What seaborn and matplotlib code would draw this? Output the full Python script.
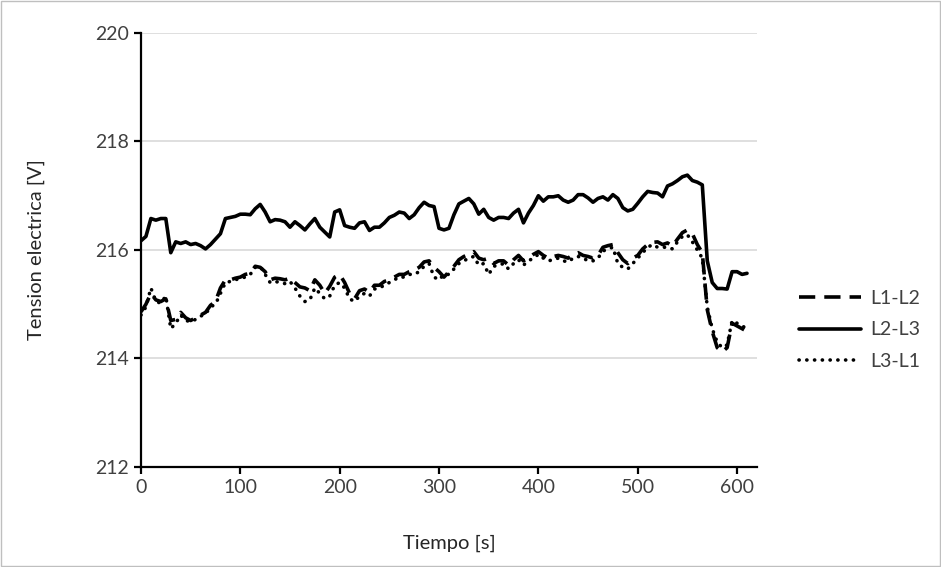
import numpy as np
import pandas as pd
import matplotlib
matplotlib.use('Agg')
import matplotlib.pyplot as plt
import seaborn as sns
from matplotlib.lines import Line2D
from matplotlib.patches import Rectangle

# datos (cada 5 s)
tiempo = list(range(0, 611, 5))

l2_l3 = [216.17, 216.25, 216.58, 216.55, 216.58, 216.58, 215.95, 216.15, 216.12, 216.15,
         216.10, 216.12, 216.08, 216.02, 216.10, 216.20, 216.30, 216.58, 216.60, 216.62,
         216.66, 216.66, 216.65, 216.76, 216.84, 216.70, 216.52, 216.56, 216.55, 216.52,
         216.42, 216.52, 216.45, 216.37, 216.48, 216.58, 216.42, 216.33, 216.24, 216.70,
         216.74, 216.45, 216.42, 216.40, 216.50, 216.52, 216.36, 216.42, 216.42, 216.50,
         216.60, 216.64, 216.70, 216.68, 216.58, 216.65, 216.78, 216.88, 216.82, 216.80,
         216.40, 216.37, 216.40, 216.65, 216.85, 216.90, 216.95, 216.85, 216.66, 216.75,
         216.60, 216.55, 216.60, 216.60, 216.58, 216.68, 216.75, 216.50, 216.68, 216.82,
         217.00, 216.90, 216.98, 216.98, 217.00, 216.92, 216.88, 216.92, 217.02, 217.02,
         216.96, 216.88, 216.95, 216.98, 216.92, 217.02, 216.95, 216.78, 216.72, 216.75,
         216.86, 216.98, 217.08, 217.06, 217.05, 216.98, 217.18, 217.22, 217.28, 217.35,
         217.38, 217.28, 217.25, 217.20, 215.80, 215.40, 215.29, 215.29, 215.28, 215.60,
         215.60, 215.55, 215.57]

l1_l2 = [214.86, 215.00, 215.20, 215.08, 215.05, 215.10, 214.70, 214.72, 214.85, 214.75,
         214.70, 214.75, 214.80, 214.85, 214.98, 215.05, 215.30, 215.45, 215.45, 215.48,
         215.50, 215.55, 215.57, 215.70, 215.68, 215.60, 215.45, 215.48, 215.47, 215.45,
         215.48, 215.40, 215.32, 215.30, 215.25, 215.45, 215.35, 215.20, 215.33, 215.50,
         215.55, 215.40, 215.20, 215.10, 215.25, 215.28, 215.22, 215.35, 215.35, 215.42,
         215.45, 215.50, 215.55, 215.55, 215.60, 215.63, 215.68, 215.78, 215.80, 215.68,
         215.60, 215.50, 215.60, 215.70, 215.82, 215.88, 215.92, 215.97, 215.85, 215.82,
         215.85, 215.75, 215.80, 215.80, 215.72, 215.82, 215.90, 215.80, 215.85, 215.92,
         215.97, 215.90, 215.85, 215.88, 215.90, 215.88, 215.85, 215.92, 215.95, 215.90,
         215.88, 215.85, 215.90, 216.05, 216.08, 216.10, 215.95, 215.82, 215.75, 215.85,
         215.90, 216.02, 216.10, 216.14, 216.15, 216.10, 216.13, 216.07, 216.20, 216.32,
         216.37, 216.30, 216.10, 215.95, 214.90, 214.50, 214.20, 214.12, 214.20, 214.65,
         214.60, 214.55, 214.50]

l3_l1 = [214.80, 214.95, 215.30, 215.05, 215.02, 215.15, 214.55, 214.65, 214.80, 214.70,
         214.68, 214.72, 214.78, 214.82, 214.95, 215.00, 215.20, 215.40, 215.42, 215.45,
         215.48, 215.50, 215.55, 215.68, 215.70, 215.55, 215.40, 215.42, 215.40, 215.38,
         215.42, 215.30, 215.15, 215.05, 215.08, 215.30, 215.20, 215.10, 215.15, 215.35,
         215.40, 215.30, 215.10, 215.05, 215.15, 215.20, 215.15, 215.28, 215.30, 215.35,
         215.40, 215.45, 215.50, 215.50, 215.55, 215.55, 215.60, 215.70, 215.75, 215.50,
         215.45, 215.55, 215.55, 215.65, 215.75, 215.80, 215.85, 215.88, 215.72, 215.75,
         215.55, 215.70, 215.72, 215.75, 215.65, 215.75, 215.82, 215.72, 215.80, 215.85,
         215.92, 215.85, 215.80, 215.82, 215.85, 215.80, 215.78, 215.85, 215.88, 215.85,
         215.80, 215.80, 215.85, 215.98, 216.02, 216.05, 215.75, 215.68, 215.65, 215.75,
         215.85, 215.95, 216.05, 216.10, 216.05, 216.05, 216.05, 216.02, 216.15, 216.25,
         216.28, 216.15, 216.00, 215.85, 214.95, 214.55, 214.30, 214.20, 214.25, 214.70,
         214.65, 214.60, 214.55]

series = ['L1-L2', 'L2-L3', 'L3-L1']
valores = [l1_l2, l2_l3, l3_l1]
estilos = {'L1-L2': (0, (4.5, 2.5)), 'L2-L3': '-', 'L3-L1': (0, (0.05, 2.1))}

sns.set_style('white')
plt.rcParams['font.family'] = ['Lato', 'DejaVu Sans']

fig = plt.figure(figsize=(9.41, 5.67), dpi=100)
ax = fig.add_axes([0.1498, 0.1764, 0.6546, 0.7654])

for nombre, vals in zip(series, valores):
    df = pd.DataFrame({'Tiempo': tiempo, 'V': vals})
    sns.lineplot(data=df, x='Tiempo', y='V', ax=ax, color='black', lw=2.6,
                 linestyle=estilos[nombre])
    ax.lines[-1].set_dash_capstyle('round' if nombre == 'L3-L1' else 'butt')

ax.set_xlim(0, 620)
ax.set_ylim(212, 220)
ax.set_xticks(range(0, 601, 100))
ax.set_yticks(range(212, 221, 2))
ax.yaxis.grid(True, color='#d9d9d9', lw=1.2)
ax.set_axisbelow(True)
for s in ['top', 'right']:
    ax.spines[s].set_visible(False)
for s in ['left', 'bottom']:
    ax.spines[s].set_color('black')
    ax.spines[s].set_linewidth(1.6)
ax.tick_params(axis='both', which='both', direction='out', length=5, width=1.6,
               colors='black', labelsize=14, left=True, bottom=True, labelcolor='#404040')
ax.set_xlabel('Tiempo [s]', fontsize=14.5, color='#262626', labelpad=28)
ax.set_ylabel('Tension electrica [V]', fontsize=14.5, color='#262626', labelpad=36)

handles = [Line2D([], [], color='black', lw=2.6, linestyle=estilos[n],
                  dash_capstyle='round' if n == 'L3-L1' else 'butt') for n in series]
fig.legend(handles, series, loc='center left', bbox_to_anchor=(0.83, 1 - 330 / 567),
           frameon=False, fontsize=14, handlelength=3.2, labelspacing=0.75,
           handletextpad=0.5, labelcolor='#404040')

fig.add_artist(Rectangle((0.001, 0.001), 0.998, 0.998, transform=fig.transFigure,
                         fill=False, edgecolor='#bfbfbf', lw=1))

fig.savefig('out.png', dpi=100, facecolor='white')
